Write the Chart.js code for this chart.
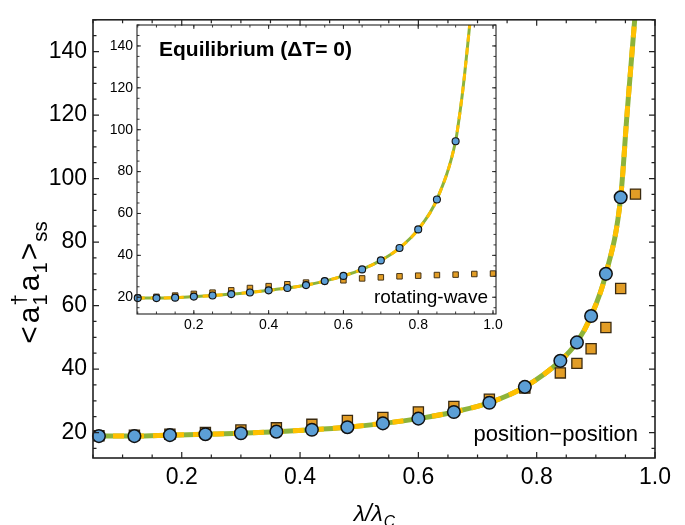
<!DOCTYPE html>
<html>
<head>
<meta charset="utf-8">
<script src="https://cdn.jsdelivr.net/npm/chart.js@4.4.0/dist/chart.umd.min.js"></script>
<style>
  body { margin: 0; background: #fff; }
  #wrap { position: relative; width: 685px; height: 525px; }
  canvas { position: absolute; left: 0; top: 0; }
</style>
</head>
<body>
<div id="wrap">
  <canvas id="main" width="685" height="525"></canvas>
  <canvas id="inset" width="685" height="525"></canvas>
</div>
<script>
// main panel (position-position)
const mainCircleX = [0.06, 0.12, 0.18, 0.24, 0.30, 0.36, 0.42, 0.48, 0.54, 0.60, 0.66, 0.72, 0.78, 0.84, 0.868, 0.892, 0.917, 0.942];
const mainCircleY = [18.9, 18.9, 19.2, 19.5, 19.8, 20.3, 20.9, 21.7, 22.9, 24.4, 26.5, 29.4, 34.4, 42.6, 48.4, 56.7, 70.0, 94.1];
const mainSquareX = [0.06, 0.12, 0.18, 0.24, 0.30, 0.36, 0.42, 0.48, 0.54, 0.60, 0.66, 0.72, 0.78, 0.84, 0.868, 0.892, 0.917, 0.942, 0.967];
const mainSquareY = [19.0, 19.2, 19.5, 20.0, 20.8, 21.5, 22.6, 23.8, 24.8, 26.5, 28.2, 30.5, 34.0, 38.8, 41.8, 46.4, 53.1, 65.4, 95.1];
const mainCurveX = [0.05, 0.06, 0.12, 0.18, 0.24, 0.30, 0.36, 0.42, 0.48, 0.54, 0.60, 0.66, 0.72, 0.78, 0.84, 0.868, 0.892, 0.917, 0.942, 0.953, 0.967];
const mainCurveY = [18.9, 18.9, 18.9, 19.2, 19.5, 19.8, 20.3, 20.9, 21.7, 22.9, 24.4, 26.5, 29.4, 34.4, 42.6, 48.4, 56.7, 70.0, 94.1, 121, 153];

// inset (equilibrium, rotating-wave)
const insetCircleX = [0.05, 0.10, 0.15, 0.20, 0.25, 0.30, 0.35, 0.40, 0.45, 0.50, 0.55, 0.60, 0.65, 0.70, 0.75, 0.80, 0.85, 0.90];
const insetCircleY = [19.6, 19.6, 19.8, 20.3, 20.8, 21.5, 22.3, 23.3, 24.4, 25.8, 27.7, 30.2, 33.3, 37.6, 43.5, 52.4, 66.7, 94.5];
const insetSquareX = [0.05, 0.10, 0.15, 0.20, 0.25, 0.30, 0.35, 0.40, 0.45, 0.50, 0.55, 0.60, 0.65, 0.70, 0.75, 0.80, 0.85, 0.90, 0.95, 1.00];
const insetSquareY = [19.8, 20.2, 20.8, 21.6, 22.2, 23.3, 24.4, 25.3, 26.2, 27.0, 27.7, 28.1, 29.0, 29.5, 30.0, 30.3, 30.6, 30.8, 31.1, 31.3];
const insetCurveX = [0.05, 0.10, 0.15, 0.20, 0.25, 0.30, 0.35, 0.40, 0.45, 0.50, 0.55, 0.60, 0.65, 0.70, 0.75, 0.80, 0.85, 0.90, 0.905, 0.92, 0.94];
const insetCurveY = [19.6, 19.6, 19.8, 20.3, 20.8, 21.5, 22.3, 23.3, 24.4, 25.8, 27.7, 30.2, 33.3, 37.6, 43.5, 52.4, 66.7, 94.5, 100, 120, 154];

// ticks
const xMajor = [0.2, 0.4, 0.6, 0.8, 1.0];
const yMajor = [20, 40, 60, 80, 100, 120, 140];
const xMinor = [];
for (let v = 0.05; v < 1.001; v += 0.05) xMinor.push(+v.toFixed(2));
const yMinor = [];
for (let v = 15; v <= 150; v += 5) yMinor.push(v);

const FONT = "'Liberation Sans', Arial, sans-serif";
const BLUE = "#5c9fd6";
const ORANGE = "#e29d26";
const YELLOW = "#ffc000";
const GREEN = "#8db33a";

function pts(xs, ys) {
  return xs.map((x, i) => ({ x: x, y: ys[i] }));
}

// frame with inward ticks on all four sides, Mathematica style
const frameTicks = {
  id: "frameTicks",
  afterDraw(chart, args, o) {
    const ctx = chart.ctx;
    const a = chart.chartArea;
    const xs = chart.scales.x, ys = chart.scales.y;
    ctx.save();
    ctx.strokeStyle = o.color;
    ctx.lineWidth = o.tickWidth;
    ctx.beginPath();
    const xt = (vals, len) => vals.forEach(v => {
      const p = xs.getPixelForValue(v);
      if (p < a.left - 0.5 || p > a.right + 0.5) return;
      ctx.moveTo(p, a.bottom); ctx.lineTo(p, a.bottom - len);
      ctx.moveTo(p, a.top); ctx.lineTo(p, a.top + len);
    });
    const yt = (vals, len) => vals.forEach(v => {
      const p = ys.getPixelForValue(v);
      if (p < a.top - 0.5 || p > a.bottom + 0.5) return;
      ctx.moveTo(a.left, p); ctx.lineTo(a.left + len, p);
      ctx.moveTo(a.right, p); ctx.lineTo(a.right - len, p);
    });
    xt(xMinor, o.minor); xt(xMajor, o.major);
    yt(yMinor, o.minor); yt(yMajor, o.major);
    ctx.stroke();
    ctx.lineWidth = o.lineWidth;
    ctx.strokeRect(a.left, a.top, a.right - a.left, a.bottom - a.top);
    ctx.restore();
  }
};

// text with sub/superscripts: parts = [{t, sub, sup, it, g}]
function drawRich(ctx, parts, size, cx, base) {
  const small = size * 0.68;
  const f = (s, it) => (it ? "italic " : "") + s + "px " + FONT;
  let total = 0;
  const widths = parts.map(p => {
    ctx.font = f(size, p.it);
    const w1 = ctx.measureText(p.t).width;
    ctx.font = f(small, p.it);
    const w2 = Math.max(p.sub ? ctx.measureText(p.sub).width : 0, p.sup ? ctx.measureText(p.sup).width : 0);
    const g = p.g || 0;
    total += w1 + w2 + g;
    return [w1, w2, g];
  });
  let x = cx - total / 2;
  ctx.textAlign = "left";
  ctx.textBaseline = "alphabetic";
  parts.forEach((p, i) => {
    ctx.font = f(size, p.it);
    ctx.fillText(p.t, x, base);
    x += widths[i][0];
    ctx.font = f(small, p.it);
    if (p.sub) ctx.fillText(p.sub, x + 1, base + size * 0.27);
    if (p.sup) ctx.fillText(p.sup, x + 1, base - size * 0.45);
    x += widths[i][1] + widths[i][2];
  });
}

const mainText = {
  id: "mainText",
  afterDraw(chart) {
    const ctx = chart.ctx;
    ctx.save();
    ctx.fillStyle = "#000";
    ctx.font = "22px " + FONT;
    ctx.textAlign = "right";
    ctx.textBaseline = "alphabetic";
    ctx.fillText("position\u2212position", 638, 441);
    drawRich(ctx, [{ t: "\u03bb/\u03bb", it: true, sub: "C" }], 23, 374, 521);
    ctx.translate(39, 283);
    ctx.rotate(-Math.PI / 2);
    drawRich(ctx, [
      { t: "<", g: 3 },
      { t: "a", sub: "1", sup: "\u2020", g: 4 },
      { t: "a", sub: "1", g: 3 },
      { t: ">", sub: "ss" }
    ], 30, 0, 0);
    ctx.restore();
  }
};

const insetText = {
  id: "insetText",
  afterDraw(chart) {
    const ctx = chart.ctx;
    ctx.save();
    ctx.fillStyle = "#000";
    ctx.font = "bold 21px " + FONT;
    ctx.textAlign = "left";
    ctx.textBaseline = "alphabetic";
    ctx.fillText("Equilibrium (\u0394T= 0)", 159, 56);
    ctx.font = "19px " + FONT;
    ctx.textAlign = "right";
    ctx.fillText("rotating-wave", 488, 303);
    ctx.restore();
  }
};

function makePanel(id, d) {
  return new Chart(document.getElementById(id), {
    type: "scatter",
    data: {
      datasets: [
        { data: pts(d.cx, d.cy), pointStyle: "circle", pointRadius: d.cr, backgroundColor: BLUE,
          borderColor: "#111", borderWidth: d.mbw, clip: false },
        { data: pts(d.sx, d.sy), pointStyle: "rect", pointRadius: d.sr, backgroundColor: ORANGE,
          borderColor: "#3a2a10", borderWidth: d.mbw * 0.85, clip: false },
        { type: "line", data: pts(d.lx, d.ly), borderColor: YELLOW, borderWidth: d.lw, borderDash: d.dash,
          pointRadius: 0, cubicInterpolationMode: "monotone", fill: false },
        { type: "line", data: pts(d.lx, d.ly), borderColor: GREEN, borderWidth: d.lw,
          pointRadius: 0, cubicInterpolationMode: "monotone", fill: false }
      ]
    },
    options: {
      responsive: false,
      animation: false,
      events: [],
      layout: { padding: d.pad },
      plugins: {
        legend: { display: false },
        tooltip: { enabled: false },
        frameTicks: d.frame
      },
      scales: {
        x: {
          type: "linear", min: d.xmin, max: d.xmax,
          afterFit: s => { s.height = d.xh; },
          afterBuildTicks: s => { s.ticks = xMajor.map(v => ({ value: v })); },
          grid: { display: false, drawTicks: false },
          border: { display: false },
          ticks: { color: "#000", font: { family: FONT, size: d.fs }, padding: d.xpad,
                   maxRotation: 0, autoSkip: false, callback: v => v.toFixed(1) }
        },
        y: {
          type: "linear", min: 12, max: 150,
          afterFit: s => { s.width = d.yw; },
          afterBuildTicks: s => { s.ticks = yMajor.map(v => ({ value: v })); },
          grid: { display: false, drawTicks: false },
          border: { display: false },
          ticks: { color: "#000", font: { family: FONT, size: d.fs }, padding: d.ypad,
                   autoSkip: false, callback: v => String(v) }
        }
      }
    },
    plugins: [frameTicks, d.text]
  });
}

makePanel("main", {
  cx: mainCircleX, cy: mainCircleY, sx: mainSquareX, sy: mainSquareY, lx: mainCurveX, ly: mainCurveY,
  cr: 6.3, sr: 7.2, mbw: 1.5, lw: 5, dash: [11, 9],
  pad: { left: 0, top: 9, right: 30, bottom: 0 }, xh: 67, yw: 93,
  xmin: 0.05, xmax: 1.0, fs: 23, xpad: 6, ypad: 6,
  frame: { color: "#222", lineWidth: 1.6, tickWidth: 1.2, major: 6, minor: 3.5 },
  text: mainText
});

makePanel("inset", {
  cx: insetCircleX, cy: insetCircleY, sx: insetSquareX, sy: insetSquareY, lx: insetCurveX, ly: insetCurveY,
  cr: 3.5, sr: 3.9, mbw: 1.1, lw: 3, dash: [7, 6],
  pad: { left: 0, top: 25, right: 189, bottom: 0 }, xh: 211, yw: 137,
  xmin: 0.048, xmax: 1.008, fs: 14, xpad: 3, ypad: 4,
  frame: { color: "#222", lineWidth: 1.1, tickWidth: 0.9, major: 4, minor: 2.5 },
  text: insetText
});
</script>
</body>
</html>
